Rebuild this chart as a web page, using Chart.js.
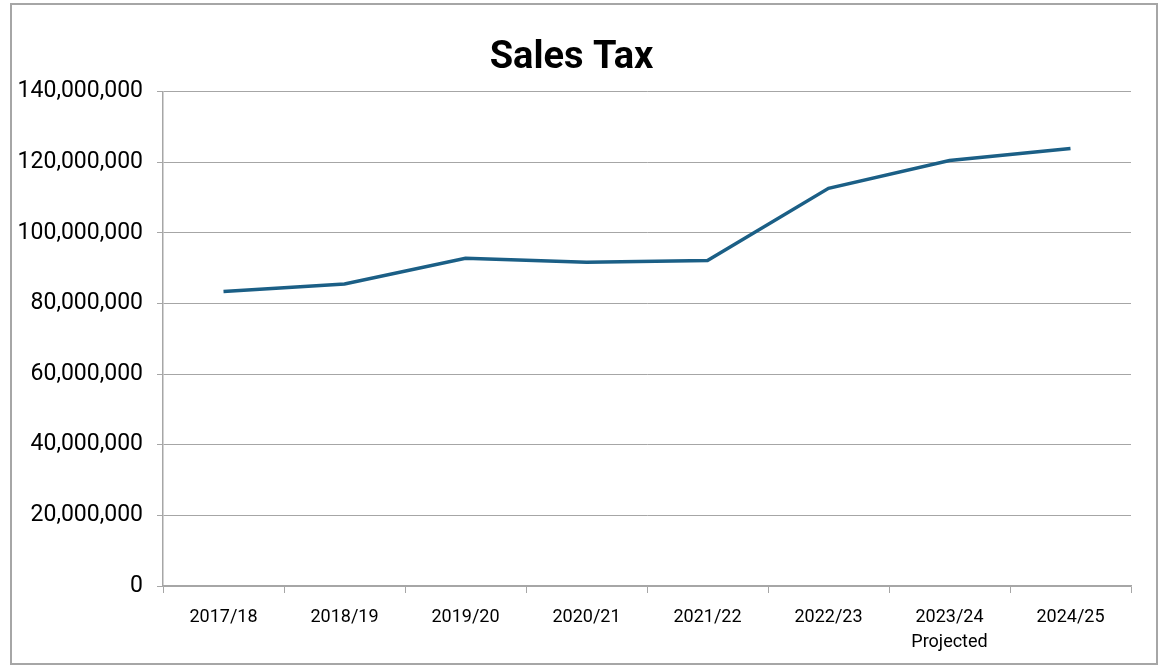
<!DOCTYPE html>
<html>
<head>
<meta charset="utf-8">
<script src="https://cdn.jsdelivr.net/npm/chart.js@4"></script>
<style>
  body { margin: 0; background: #fff; }
  #frame {
    position: absolute; left: 10px; top: 3px;
    width: 1144px; height: 658px;
    border: 2px solid #a6a6a6; background: #fff;
  }
</style>
</head>
<body>
<div id="frame"><canvas id="myChart" width="1144" height="658"></canvas></div>
<script>
// fiscal years on the x axis
var years = ['2017/18', '2018/19', '2019/20', '2020/21', '2021/22', '2022/23', ['2023/24', 'Projected'], '2024/25'];
var salesTax = [83400000, 85500000, 92800000, 91700000, 92200000, 112600000, 120500000, 123900000];
var yTicks = [0, 20000000, 40000000, 60000000, 80000000, 100000000, 120000000, 140000000];

var fontFam = "'Liberation Sans Narrow', Roboto, sans-serif";

var config = {
  type: 'line',
  data: {
    labels: years,
    datasets: [{
      label: 'Sales Tax',
      data: salesTax,
      borderColor: '#1b5f86',
      borderWidth: 3.5,
      pointRadius: 0,
      tension: 0,
      fill: false
    }]
  },
  options: {
    responsive: false,
    animation: false,
    layout: { padding: { left: 0, right: 25, top: 0, bottom: 0 } },
    plugins: {
      legend: { display: false },
      tooltip: { enabled: false },
      title: {
        display: true,
        text: 'Sales Tax',
        color: '#000',
        font: { family: 'Roboto', size: 38, weight: 'bold', lineHeight: 1.2 },
        padding: { top: 31, bottom: 10 }
      }
    },
    scales: {
      x: {
        offset: true,
        grid: { display: true, drawOnChartArea: false, drawTicks: true, offset: true, tickLength: 7, color: '#a6a6a6' },
        border: { color: '#a6a6a6', width: 1.5 },
        ticks: { color: '#000', font: { family: fontFam, size: 18, lineHeight: 1.4 }, padding: 12, maxRotation: 0 },
        afterFit: function(scale) { scale.height = 77; }
      },
      y: {
        min: 0,
        max: yTicks[yTicks.length - 1],
        afterBuildTicks: function(scale) {
          scale.ticks = yTicks.map(function(v) { return { value: v }; });
        },
        grid: { color: '#a6a6a6', lineWidth: 1, tickLength: 6 },
        border: { color: '#a6a6a6', width: 1.5 },
        ticks: {
          color: '#000',
          font: { family: fontFam, size: 23 },
          padding: 14,
          callback: function(v) { return Number(v).toLocaleString('en-US'); }
        },
        afterFit: function(scale) { scale.width = 151; }
      }
    }
  }
};

var chart = new Chart(document.getElementById('myChart'), config);
</script>
</body>
</html>
